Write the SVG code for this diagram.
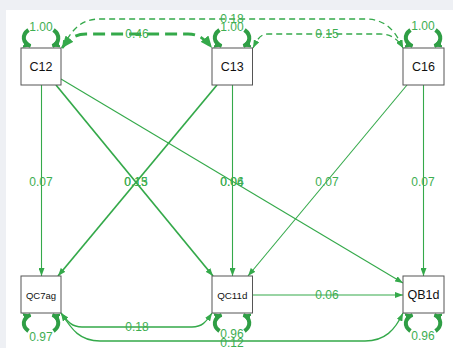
<svg xmlns="http://www.w3.org/2000/svg" xmlns:xlink="http://www.w3.org/1999/xlink" width="453" height="348" viewBox="0 0 453 348">
<style>
.node rect{fill:#fff;stroke:#555;stroke-width:1}
.node text{font-family:"Liberation Sans",Arial,sans-serif;fill:#111;text-anchor:middle;dominant-baseline:central}
.e{fill:none;stroke:#34a94a;stroke-width:1.1}
.thick{stroke-width:1.7}
.cov{fill:none;stroke:#34a94a;stroke-width:1.3}
.dash{stroke-dasharray:6 4}
.dashbig{stroke-width:2.8;stroke-dasharray:12 6}
.loop{fill:none;stroke:#2f9e45;stroke-width:4}
.lbl{font-family:"Liberation Sans",Arial,sans-serif;font-size:12px;fill:#3dae51;text-anchor:middle;dominant-baseline:central}
</style>
<defs>
<marker id="ah" viewBox="0 0 8 6" refX="8" refY="3" markerWidth="8" markerHeight="6" markerUnits="userSpaceOnUse" orient="auto-start-reverse"><path d="M0,0 L8,3 L0,6 z" fill="#34a94a"/></marker>
<marker id="ahB" viewBox="0 0 12 10" refX="12" refY="5" markerWidth="12" markerHeight="10" markerUnits="userSpaceOnUse" orient="auto-start-reverse"><path d="M0,0 L12,5 L0,10 z" fill="#34a94a"/></marker>
<marker id="ahL" viewBox="0 0 8 9" refX="7" refY="4.5" markerWidth="8" markerHeight="9" markerUnits="userSpaceOnUse" orient="auto"><path d="M0,0 L8,4.5 L0,9 z" fill="#2f9e45"/></marker>
<g id="loop">
<path class="loop" d="M -13 -18 C -20 -13, -19 -5, -11 -2" marker-end="url(#ahL)"/>
<path class="loop" d="M 12 -18 C 19 -13, 18 -5, 11 -2" marker-end="url(#ahL)"/>
</g>
</defs>
<rect x="0" y="0" width="453" height="348" fill="#eef0f4"/>
<rect x="6" y="10" width="447" height="338" fill="#fff"/>

<g id="connectors">
<path class="e" d="M41.5 85 L41.5 276" marker-end="url(#ah)"/>
<path class="e thick" d="M56 85 L213 276" marker-end="url(#ah)"/>
<path class="e" d="M61 79 L403 283" marker-end="url(#ah)"/>
<path class="e thick" d="M217 85 L58 276" marker-end="url(#ah)"/>
<path class="e" d="M232.5 85 L232.5 276" marker-end="url(#ah)"/>
<path class="e" d="M407 85 L248 276" marker-end="url(#ah)"/>
<path class="e" d="M423.5 85 L423.5 276" marker-end="url(#ah)"/>
<path class="e" d="M253 295 L403 295" marker-end="url(#ah)"/>
<path class="cov dash dashbig" d="M62 48 C70 38, 76 34, 86 34 L188 34 C198 34, 204 38, 212 48" marker-start="url(#ahB)" marker-end="url(#ahB)"/>
<path class="cov dash" d="M62 48 C72 30, 80 19, 100 19 L365 19 C385 19, 395 30, 403 48" marker-start="url(#ah)" marker-end="url(#ah)"/>
<path class="cov dash" d="M253 48 C257 40, 260 34, 268 34 L380 34 C392 34, 398 40, 403 48" marker-start="url(#ah)" marker-end="url(#ah)"/>
<path class="cov" d="M61 313 C68 322, 72 327, 82 327 L192 327 C202 327, 206 322, 212 313" marker-start="url(#ah)" marker-end="url(#ah)"/>
<path class="cov" d="M61 313 C72 330, 80 341, 100 341 L365 341 C385 341, 395 330, 403 313" marker-start="url(#ah)" marker-end="url(#ah)"/>
<use href="#loop" transform="translate(41.5,48)"/>
<use href="#loop" transform="translate(232.5,48)"/>
<use href="#loop" transform="translate(423.5,48)"/>
<use href="#loop" transform="translate(41.5,313) scale(1,-1)"/>
<use href="#loop" transform="translate(232.5,313) scale(1,-1)"/>
<use href="#loop" transform="translate(423.5,313) scale(1,-1)"/>
<text class="lbl" x="41" y="181.5">0.07</text>
<text class="lbl" x="136" y="181.5">0.15</text>
<text class="lbl" x="136" y="181.5">0.13</text>
<text class="lbl" x="232" y="181.5">0.04</text>
<text class="lbl" x="232" y="181.5">0.06</text>
<text class="lbl" x="327" y="181.5">0.07</text>
<text class="lbl" x="423" y="181.5">0.07</text>
<text class="lbl" x="327" y="295">0.06</text>
<text class="lbl" x="137" y="34">0.46</text>
<text class="lbl" x="232" y="18.5">0.18</text>
<text class="lbl" x="327" y="34">0.15</text>
<text class="lbl" x="137" y="327">0.18</text>
<text class="lbl" x="232" y="342.5">0.12</text>
<text class="lbl" x="41" y="27">1.00</text>
<text class="lbl" x="232" y="26.5">1.00</text>
<text class="lbl" x="423" y="26">1.00</text>
<text class="lbl" x="41" y="336.5">0.97</text>
<text class="lbl" x="232" y="334">0.96</text>
<text class="lbl" x="423" y="336">0.96</text>
</g>

<g id="C12" class="node"><rect x="21" y="48" width="40" height="37"/><text x="41" y="67" font-size="12.5">C12</text></g>
<g id="C13" class="node"><rect x="212" y="48" width="40.5" height="37"/><text x="232.3" y="67" font-size="12.5">C13</text></g>
<g id="C16" class="node"><rect x="403" y="48" width="41" height="37"/><text x="423.5" y="67" font-size="12.5">C16</text></g>
<g id="QC7ag" class="node"><rect x="21" y="276" width="40" height="37"/><text x="41" y="295" font-size="9.5">QC7ag</text></g>
<g id="QC11d" class="node"><rect x="212" y="276" width="40.5" height="37"/><text x="232.3" y="295" font-size="9.8">QC11d</text></g>
<g id="QB1d" class="node"><rect x="403" y="276" width="41" height="37"/><text x="423.5" y="294.5" font-size="12.5">QB1d</text></g>
</svg>
